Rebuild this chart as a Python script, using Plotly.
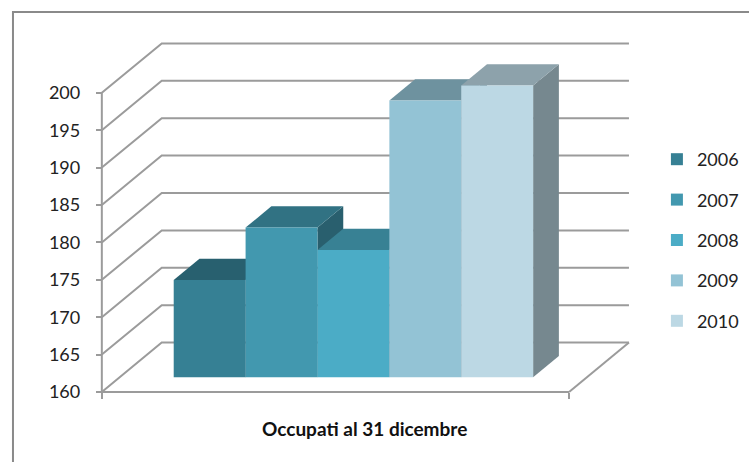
import plotly.graph_objects as go

# ---- data ----
years = ["2006", "2007", "2008", "2009", "2010"]
values = [173, 180, 177, 197, 199]
category_label = "Occupati al 31 dicembre"
y_ticks = [160, 165, 170, 175, 180, 185, 190, 195, 200]

# ---- style ----
front_colors = ["#368094", "#4298AF", "#4BACC6", "#93C3D5", "#BCD8E4"]
TOP_SHADE = 0.75
SIDE_SHADE = 0.63
grid_color = "#9b9b9b"
FONT = "Lato"

# 3D oblique projection parameters (axis units)
DX = 60 / 72          # x shift for full depth
DV = 49.4 / 7.48      # value shift for full depth
F0, F1 = 0.30, 0.73   # front / back depth of the bars
XL, XR = -1.25, 5.25  # floor extent (world x)
VMIN, VMAX = y_ticks[0], y_ticks[-1]


def shade(hex_color, k):
    h = hex_color.lstrip("#")
    r, g, b = (int(h[i:i + 2], 16) for i in (0, 2, 4))
    return "#%02x%02x%02x" % (int(r * k), int(g * k), int(b * k))


def proj(x, v, d):
    return x + d * DX, v + d * DV


def path(points):
    return "M " + " L ".join(f"{x},{y}" for x, y in points) + " Z"


shapes = []
# back wall + left wall gridlines
for v in y_ticks:
    a = proj(XL, v, 0)
    b = proj(XL, v, 1)
    c = proj(XR, v, 1)
    shapes.append(dict(type="path", xref="x", yref="y", layer="between",
                       path=f"M {a[0]},{a[1]} L {b[0]},{b[1]} L {c[0]},{c[1]}",
                       line=dict(color=grid_color, width=2)))
# floor front and right edges, y axis line
for p, q in [((XL, VMIN, 0), (XR, VMIN, 0)),
             ((XR, VMIN, 0), (XR, VMIN, 1)),
             ((XL, VMIN, 0), (XL, VMAX, 0))]:
    a, b = proj(*p), proj(*q)
    shapes.append(dict(type="line", xref="x", yref="y", layer="between",
                       x0=a[0], y0=a[1], x1=b[0], y1=b[1],
                       line=dict(color=grid_color, width=2)))

# bar side and top faces (fronts are the bar traces)
for i, v in enumerate(values):
    xl, xr = i - 0.5, i + 0.5
    side = [proj(xr, VMIN, F0), proj(xr, v, F0), proj(xr, v, F1), proj(xr, VMIN, F1)]
    top = [proj(xl, v, F0), proj(xr, v, F0), proj(xr, v, F1), proj(xl, v, F1)]
    shapes.append(dict(type="path", xref="x", yref="y", layer="between",
                       path=path(side), fillcolor=shade(front_colors[i], SIDE_SHADE),
                       line=dict(width=0)))
    shapes.append(dict(type="path", xref="x", yref="y", layer="between",
                       path=path(top), fillcolor=shade(front_colors[i], TOP_SHADE),
                       line=dict(width=0)))

# horizontal compensation factor observed for the capture
K = 0.9908
W, H = round(749 / K), 462
ML, MR, MT, MB = 92, W - round(640 / K), 38, 64
pw, ph = W - ML - MR, H - MT - MB
UX = 72 / K   # px per x unit
UY = 7.48     # px per value unit


def px_x(sx):  # target screen x -> paper
    return (sx / K - ML) / pw


def px_y(sy):  # target screen y -> paper
    return (H - MB - sy) / ph


# frame
shapes.append(dict(type="rect", xref="paper", yref="paper",
                   x0=px_x(12), y0=px_y(12), x1=1.6, y1=-0.6,
                   line=dict(color="#8a8a8a", width=2), layer="below"))

fig = go.Figure()
for i, (yr, v) in enumerate(zip(years, values)):
    fig.add_trace(go.Bar(
        x=[i + F0 * DX], y=[v - VMIN], base=[VMIN + F0 * DV], width=[1],
        name=yr, legendgroup=yr,
        marker=dict(color=front_colors[i], line=dict(width=0)),
        customdata=[v], hovertemplate=yr + ": %{customdata}<extra></extra>",
    ))

axis_px = 101 / K - ML          # y axis position inside the plot area
x0 = XL - axis_px / UX
y0 = VMIN - 6 / UY

fig.update_layout(
    width=W, height=H,
    margin=dict(l=ML, r=MR, t=MT, b=MB, pad=0),
    paper_bgcolor="white", plot_bgcolor="white",
    barmode="overlay",
    shapes=shapes,
    font=dict(family=FONT, color="#222222"),
    xaxis=dict(range=[x0, x0 + pw / UX], showgrid=False, zeroline=False,
               showline=False, tickvals=[XL, XR], ticktext=["", ""],
               ticks="outside", ticklen=6, tickwidth=2, tickcolor=grid_color,
               anchor="free", position=6 / ph, fixedrange=True),
    yaxis=dict(range=[y0, y0 + ph / UY], showgrid=False, zeroline=False,
               showline=False, tickvals=y_ticks,
               ticktext=[str(t) for t in y_ticks],
               ticks="outside", ticklen=6, tickwidth=2, tickcolor=grid_color,
               tickfont=dict(family=FONT, size=18, color="#222222"),
               ticklabelstandoff=12,
               anchor="free", position=axis_px / pw, fixedrange=True),
    legend=dict(x=px_x(657), xanchor="left",
                y=px_y(240), yanchor="middle",
                font=dict(family=FONT, size=18, color="#222222"),
                tracegroupgap=14, traceorder="grouped",
                bgcolor="rgba(0,0,0,0)"),
    annotations=[dict(text="<b>" + category_label + "</b>", xref="paper", yref="paper",
                      x=px_x(364), y=px_y(428),
                      xanchor="center", yanchor="middle", showarrow=False,
                      font=dict(family=FONT, size=19, color="#111111"))],
)

fig.write_html("out.html",
               config={"displayModeBar": False},
               post_script="document.body.style.margin='0';"
                           "document.body.style.overflow='hidden';")
